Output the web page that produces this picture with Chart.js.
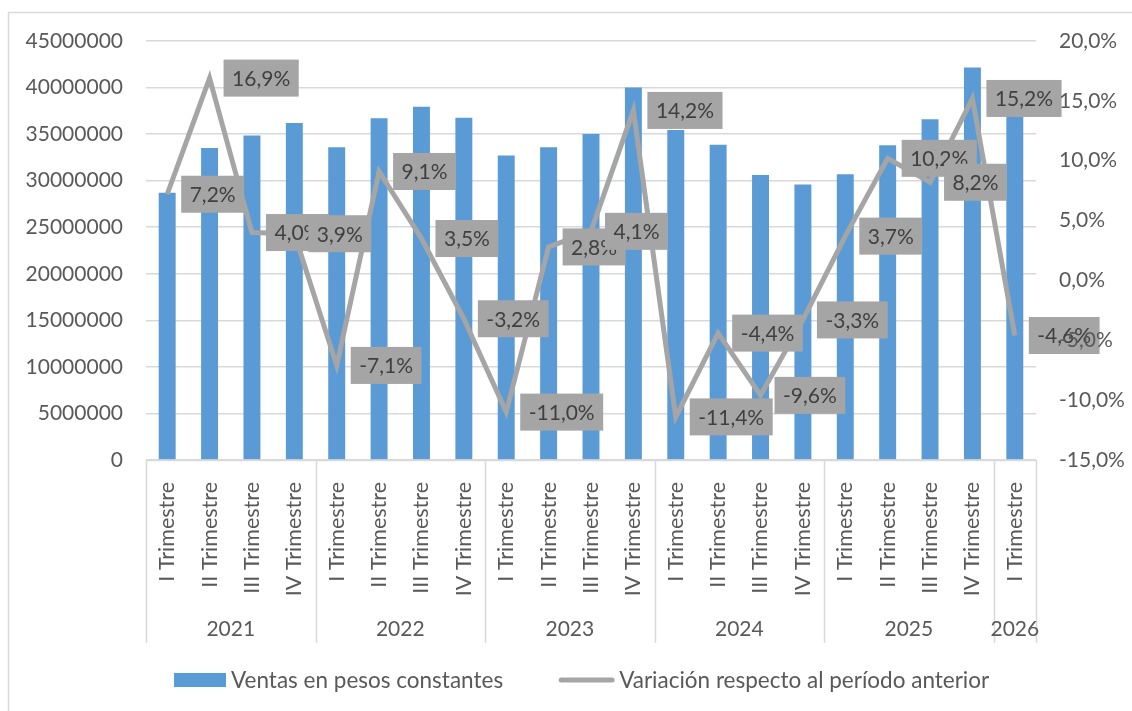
<!DOCTYPE html>
<html lang="es">
<head>
  <meta charset="utf-8">
  <title>Ventas en pesos constantes</title>
  <script src="https://cdn.jsdelivr.net/npm/chart.js@4.4.1/dist/chart.umd.min.js"></script>
  <style>
    html, body { margin: 0; padding: 0; background: #fff; }
  </style>
</head>
<body>
  <canvas id="chart" width="1132" height="711"></canvas>

  <script>
    // categorias (trimestre + año)
    const quarters = [
      'I Trimestre', 'II Trimestre', 'III Trimestre', 'IV Trimestre',
      'I Trimestre', 'II Trimestre', 'III Trimestre', 'IV Trimestre',
      'I Trimestre', 'II Trimestre', 'III Trimestre', 'IV Trimestre',
      'I Trimestre', 'II Trimestre', 'III Trimestre', 'IV Trimestre',
      'I Trimestre', 'II Trimestre', 'III Trimestre', 'IV Trimestre',
      'I Trimestre'
    ];
    const years = [
      '2021', '2021', '2021', '2021',
      '2022', '2022', '2022', '2022',
      '2023', '2023', '2023', '2023',
      '2024', '2024', '2024', '2024',
      '2025', '2025', '2025', '2025',
      '2026'
    ];
    // ventas en pesos constantes
    const sales = [
      28700000, 33500000, 34850000, 36200000,
      33600000, 36700000, 37950000, 36750000,
      32700000, 33600000, 35000000, 40000000,
      35450000, 33850000, 30600000, 29600000,
      30700000, 33800000, 36600000, 42150000,
      40200000
    ];
    // variacion respecto al periodo anterior (%)
    const variation = [
      7.2, 16.9, 4.0, 3.9,
      -7.1, 9.1, 3.5, -3.2,
      -11.0, 2.8, 4.1, 14.2,
      -11.4, -4.4, -9.6, -3.3,
      3.7, 10.2, 8.2, 15.2,
      -4.6
    ];
    const salesLabel = 'Ventas en pesos constantes';
    const varLabel = 'Variación respecto al período anterior';

    const FONT = 'Lato, "Open Sans", sans-serif';
    const TEXT = '#595959';
    const GRID = '#d9d9d9';
    const BLUE = '#5b9bd5';
    const GRAY = '#a5a5a5';

    const pct = v => v.toFixed(1).replace('.', ',') + '%';

    const extras = {
      id: 'extras',
      beforeDraw(chart) {
        const ctx = chart.ctx;
        ctx.save();
        ctx.fillStyle = '#fff';
        ctx.fillRect(0, 0, chart.width, chart.height);
        ctx.strokeStyle = GRID;
        ctx.lineWidth = 1.5;
        ctx.strokeRect(8.5, 12.5, chart.width + 20, chart.height + 20);
        ctx.restore();
      },
      afterDatasetsDraw(chart) {
        // etiquetas de la linea
        const ctx = chart.ctx;
        const meta = chart.getDatasetMeta(1);
        ctx.save();
        ctx.font = '21px ' + FONT;
        ctx.textBaseline = 'middle';
        meta.data.forEach((pt, i) => {
          const txt = pct(variation[i]);
          const w = ctx.measureText(txt).width + 17;
          const h = 37;
          const x = pt.x + 14;
          ctx.fillStyle = GRAY;
          ctx.fillRect(x, pt.y - h / 2, w, h);
          ctx.fillStyle = '#404040';
          ctx.fillText(txt, x + 8.5, pt.y + 1);
        });
        ctx.restore();
      },
      afterDraw(chart) {
        const ctx = chart.ctx;
        const xs = chart.scales.x;
        const area = chart.chartArea;
        const half = (xs.getPixelForValue(1) - xs.getPixelForValue(0)) / 2;
        ctx.save();
        ctx.strokeStyle = GRID;
        ctx.lineWidth = 1.5;
        // eje x
        ctx.beginPath();
        ctx.moveTo(area.left, area.bottom + 0.5);
        ctx.lineTo(area.right, area.bottom + 0.5);
        ctx.stroke();

        // grupos de años
        ctx.font = '21px ' + FONT;
        ctx.fillStyle = TEXT;
        ctx.textAlign = 'center';
        ctx.textBaseline = 'middle';
        let start = 0;
        const sep = x => {
          ctx.beginPath();
          ctx.moveTo(Math.round(x) + 0.5, area.bottom);
          ctx.lineTo(Math.round(x) + 0.5, 643);
          ctx.stroke();
        };
        sep(xs.getPixelForValue(0) - half);
        for (let i = 1; i <= years.length; i++) {
          if (i === years.length || years[i] !== years[start]) {
            const x0 = xs.getPixelForValue(start) - half;
            const x1 = xs.getPixelForValue(i - 1) + half;
            sep(x1);
            ctx.fillText(years[start], (x0 + x1) / 2, 629);
            start = i;
          }
        }

        // leyenda
        ctx.font = '22.5px ' + FONT;
        ctx.textAlign = 'left';
        const w1 = ctx.measureText(salesLabel).width;
        const sw = 52, gap = 5, spacing = 56;
        let lx = 174;
        const ly = 680;
        ctx.fillStyle = BLUE;
        ctx.fillRect(lx, ly - 7, sw, 14);
        lx += sw + gap;
        ctx.fillStyle = TEXT;
        ctx.fillText(salesLabel, lx, ly + 1);
        lx += w1 + spacing;
        ctx.strokeStyle = GRAY;
        ctx.lineWidth = 5;
        ctx.lineCap = 'round';
        ctx.beginPath();
        ctx.moveTo(lx + 2, ly);
        ctx.lineTo(lx + 55 - 2, ly);
        ctx.stroke();
        lx += 55 + gap;
        ctx.fillText(varLabel, lx, ly + 1);
        ctx.restore();
      }
    };

    new Chart(document.getElementById('chart'), {
      data: {
        labels: quarters,
        datasets: [
          {
            type: 'bar',
            label: salesLabel,
            data: sales,
            backgroundColor: BLUE,
            barPercentage: 0.4,
            categoryPercentage: 1,
            yAxisID: 'y',
            order: 2
          },
          {
            type: 'line',
            label: varLabel,
            data: variation,
            borderColor: GRAY,
            borderWidth: 5,
            pointRadius: 0,
            tension: 0,
            yAxisID: 'y1',
            order: 1,
            clip: false
          }
        ]
      },
      options: {
        responsive: false,
        animation: false,
        layout: { padding: { top: 41, left: 0, right: 0, bottom: 0 } },
        plugins: {
          legend: { display: false },
          tooltip: { enabled: false }
        },
        scales: {
          x: {
            grid: { display: false },
            border: { display: false },
            ticks: {
              autoSkip: false,
              maxRotation: 90,
              minRotation: 90,
              padding: 14,
              color: TEXT,
              font: { family: FONT, size: 21.5 }
            },
            afterFit(scale) { scale.height = 251; }
          },
          y: {
            position: 'left',
            min: 0,
            max: 45000000,
            grid: { color: GRID, lineWidth: 1.5, drawTicks: false },
            border: { display: false },
            ticks: {
              stepSize: 5000000,
              padding: 23,
              color: TEXT,
              font: { family: FONT, size: 21 },
              callback: v => String(v)
            },
            afterFit(scale) { scale.width = 146; }
          },
          y1: {
            position: 'right',
            min: -15,
            max: 20,
            grid: { display: false, drawTicks: false },
            border: { display: false },
            ticks: {
              z: 1,
              stepSize: 5,
              padding: 23,
              color: TEXT,
              font: { family: FONT, size: 21 },
              callback: v => pct(v)
            },
            afterFit(scale) { scale.width = 96; }
          }
        }
      },
      plugins: [extras]
    });
  </script>
</body>
</html>
